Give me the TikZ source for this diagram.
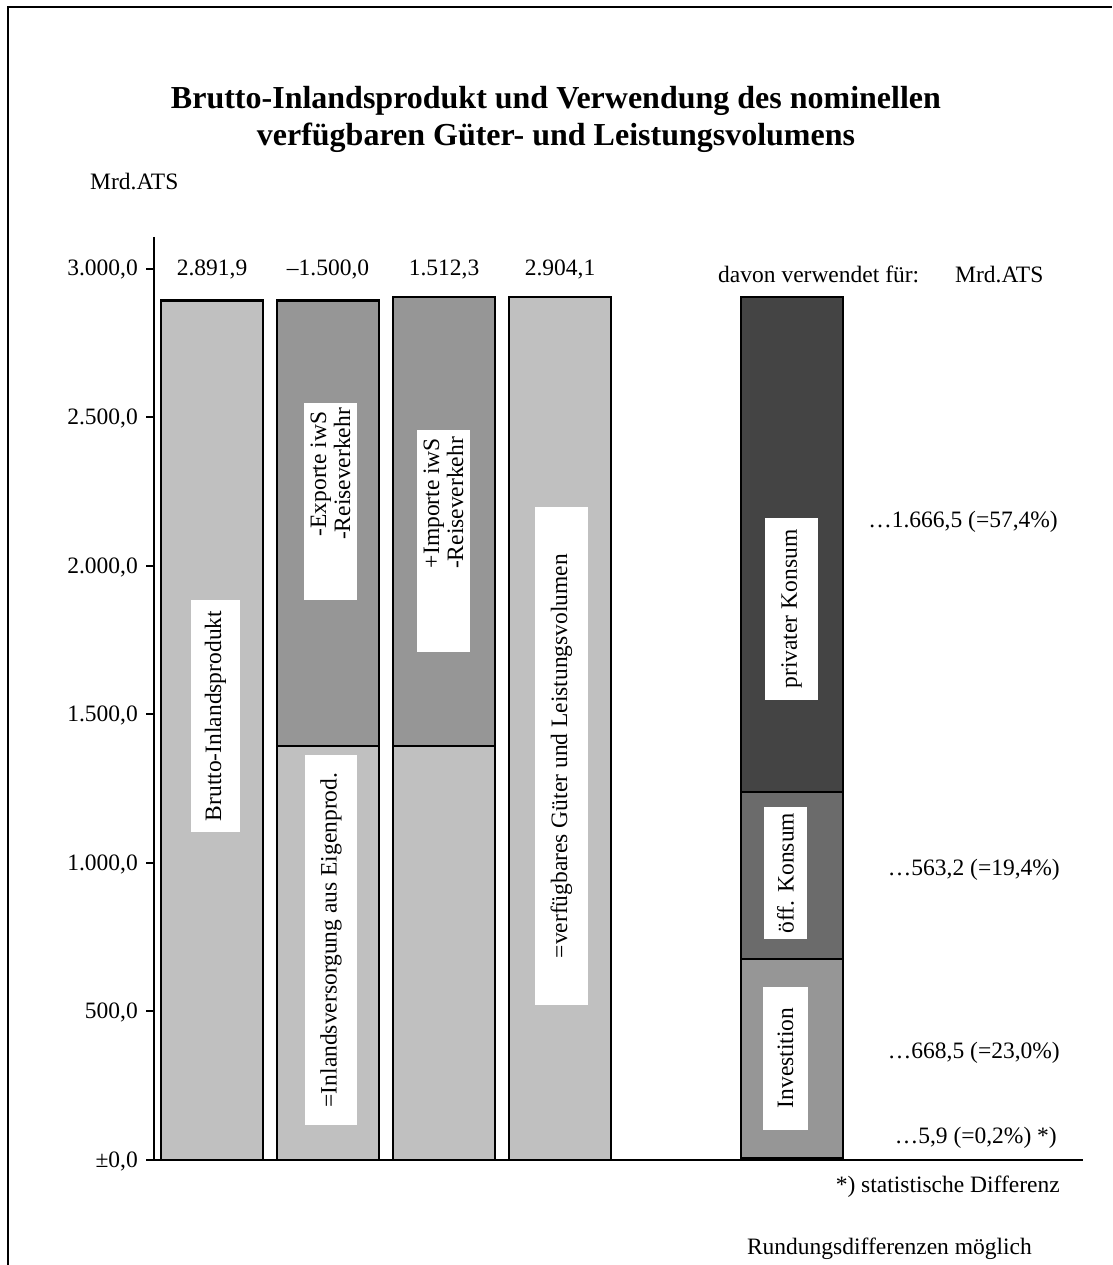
\documentclass[tikz,border=0pt]{standalone}
\usepackage{fontspec}
\setmainfont{Liberation Serif}
\newcommand\myfont{\fontsize{23.5}{24}\selectfont}
\newcommand\mytitlefont{\fontsize{32}{37}\selectfont\bfseries}
\definecolor{lightbar}{HTML}{C0C0C0}
\definecolor{midbar}{HTML}{969696}
\definecolor{oeffbar}{HTML}{6B6B6B}
\definecolor{darkbar}{HTML}{444444}
\tikzset{
  txt/.style={font=\myfont, inner sep=0pt},
  wbox/.style={fill=white, rotate=90, inner sep=0pt},
  rtxt/.style={rotate=90, font=\myfont, align=center, inner sep=0pt},
  barbox/.style={draw=black, line width=2.5pt},
  axisline/.style={line width=2pt},
}
\begin{document}
\begin{tikzpicture}[x=1pt,y=-1pt]
\useasboundingbox (0,0) rectangle (1112,1265);
% frame
\draw[line width=2pt] (8,1265) -- (8,7) -- (1112,7);
% title
\node[font=\mytitlefont, align=center, inner sep=0pt] (title) at (556,119.5) {Brutto-Inlandsprodukt und Verwendung des nominellen\\verfügbaren Güter- und Leistungsvolumens};
\node[txt, anchor=west] (unit) at (90,182) {Mrd.ATS};
% bars
\draw[barbox, fill=lightbar] (161,1160) rectangle (263,300.6);
\draw[barbox, fill=lightbar] (277,1160) rectangle (379,746.1);
\draw[barbox, fill=midbar] (277,746.1) rectangle (379,300.6);
\draw[barbox, fill=lightbar] (393,1160) rectangle (495,746.1);
\draw[barbox, fill=midbar] (393,746.1) rectangle (495,297);
\draw[barbox, fill=lightbar] (509,1160) rectangle (611,297);
\draw[barbox, fill=midbar] (741,1158) rectangle (843,959.2);
\draw[barbox, fill=oeffbar] (741,959.2) rectangle (843,791.9);
\draw[barbox, fill=darkbar] (741,791.9) rectangle (843,297);
\fill[black] (741,1160) rectangle (843,1157);
% axes
\draw[axisline] (154,237) -- (154,1160);
\draw[axisline] (146,1160) -- (1083,1160);
\foreach \yy/\lab in {268.5/{3.000,0},417/{2.500,0},565.5/{2.000,0},714/{1.500,0},862.5/{1.000,0},1011/{500,0},1159.5/{±0,0}}{
  \draw[axisline] (146,\yy) -- (154,\yy);
  \node[txt, anchor=base east] at (138,\yy+7.5) {\lab};
}
% values on top
\node[txt, anchor=base] (v1) at (212,276) {2.891,9};
\node[txt, anchor=base] (v2) at (328,276) {–1.500,0};
\node[txt, anchor=base] (v3) at (444,276) {1.512,3};
\node[txt, anchor=base] (v4) at (560,276) {2.904,1};
\node[txt, anchor=base west] (davon) at (718,282) {davon verwendet für:};
\node[txt, anchor=base west] (unit2) at (955,282) {Mrd.ATS};
% rotated labels
\node[wbox, minimum width=232pt, minimum height=49pt] (b1) at (215.5,716) {};
\node[rtxt] (l1) at (215.5,716) {Brutto-Inlandsprodukt};
\node[wbox, minimum width=197pt, minimum height=53pt] (b2a) at (330.5,501.5) {};
\node[rtxt] (l2a) at (330.5,474) {-Exporte iwS\\-Reiseverkehr};
\node[wbox, minimum width=370pt, minimum height=52pt] (b2b) at (331,940) {};
\node[rtxt] (l2b) at (331,940) {=Inlandsversorgung aus Eigenprod.};
\node[wbox, minimum width=222pt, minimum height=53pt] (b3) at (443.5,541) {};
\node[rtxt] (l3) at (443.5,503) {+Importe iwS\\-Reiseverkehr};
\node[wbox, minimum width=498pt, minimum height=53pt] (b4) at (561.5,756) {};
\node[rtxt] (l4) at (561.5,756) {=verfügbares Güter und Leistungsvolumen};
\node[wbox, minimum width=182pt, minimum height=53pt] (b5a) at (791.5,609) {};
\node[rtxt] (l5a) at (791.5,609) {privater Konsum};
\node[wbox, minimum width=132pt, minimum height=43pt] (b5b) at (785.5,873) {};
\node[rtxt] (l5b) at (785.5,873) {öff. Konsum};
\node[wbox, minimum width=143pt, minimum height=45pt] (b5c) at (785.5,1058) {};
\node[rtxt] (l5c) at (785.5,1058) {Investition};
% right labels
\node[txt, anchor=east] (r1) at (1058,522) {…1.666,5 (=57,4\%)};
\node[txt, anchor=east] (r2) at (1060,870) {…563,2 (=19,4\%)};
\node[txt, anchor=east] (r3) at (1060,1053) {…668,5 (=23,0\%)};
\node[txt, anchor=east] (r4) at (1057,1138) {…5,9 (=0,2\%) *)};
\node[txt, anchor=east] (note1) at (1060,1187) {*) statistische Differenz};
\node[txt, anchor=east] (note2) at (1032,1249) {Rundungsdifferenzen möglich};
\end{tikzpicture}
\end{document}
